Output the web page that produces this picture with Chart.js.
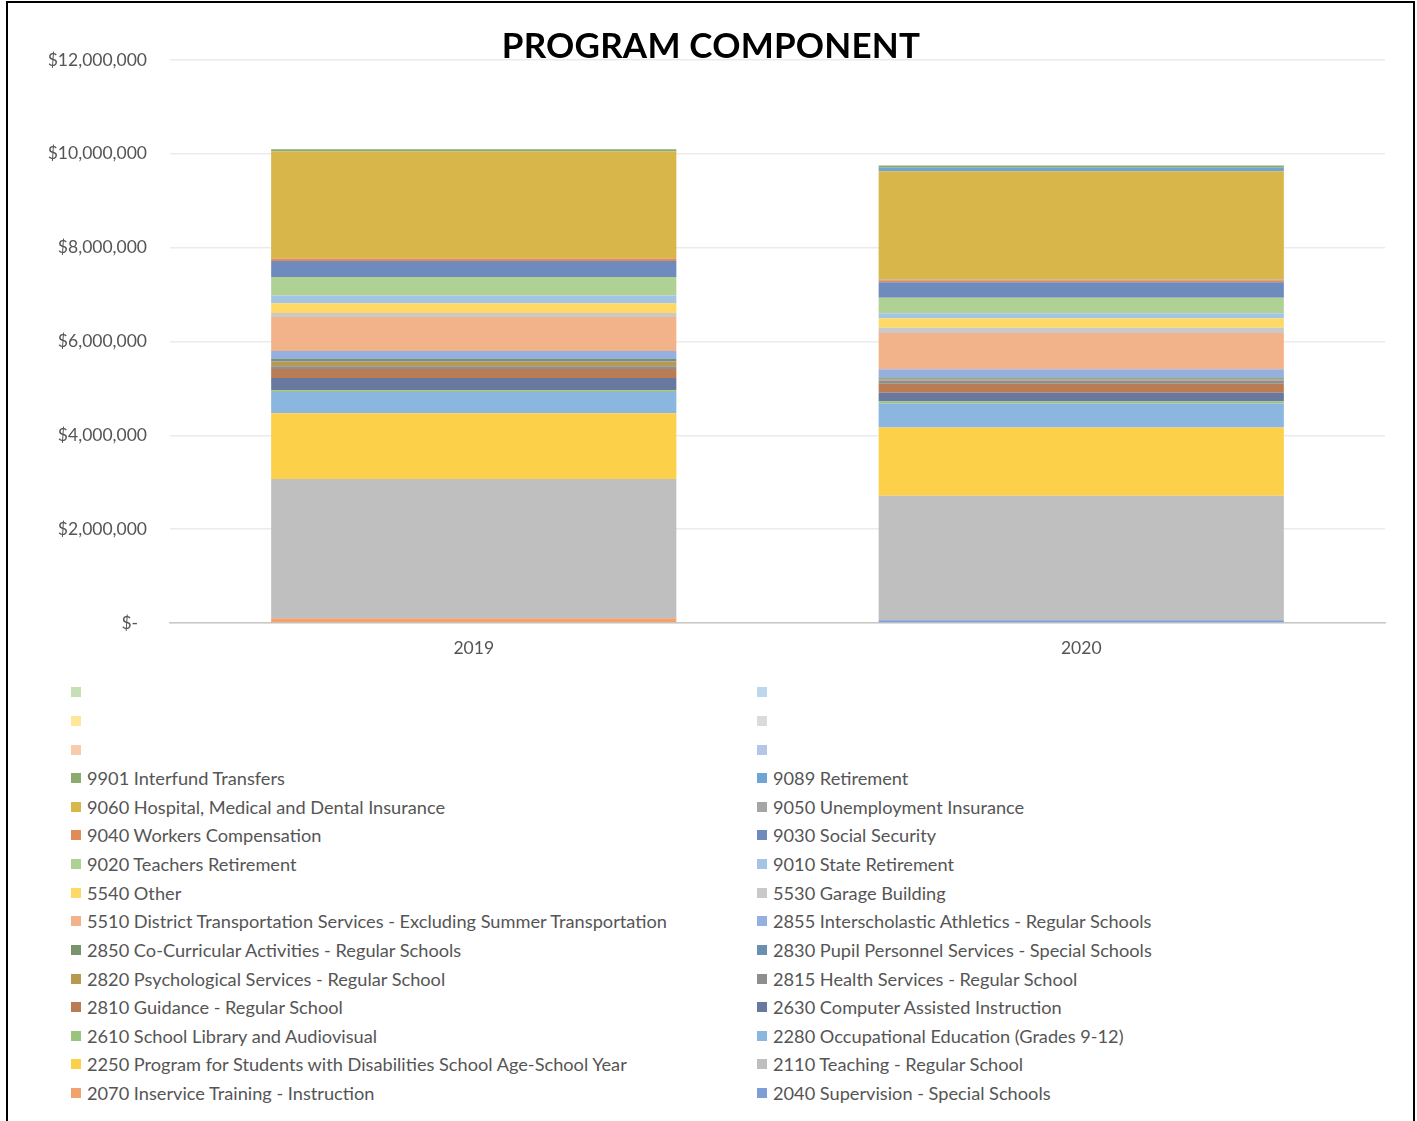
<!DOCTYPE html>
<html>
<head>
<meta charset="utf-8">
<title>Program Component</title>
<script src="https://cdn.jsdelivr.net/npm/chart.js@4.4.1/dist/chart.umd.min.js"></script>
<style>
  body { margin: 0; background: #fff; font-family: Lato, 'Open Sans', sans-serif; }
  #frame { position: absolute; left: 6px; top: 1px; width: 1405px; height: 1140px; border: 2px solid #000; }
  #wrap { position: absolute; left: 0; top: 0; width: 1417px; height: 670px; }
  #title { position: absolute; top: 23px; left: 0; width: 1422px; text-align: center;
           font: bold 35px Lato, sans-serif; color: #000; letter-spacing: 0.2px; }
  #legend { position: absolute; left: 71px; top: 678px; display: grid; grid-template-columns: 686px 620px; }
  .item { height: 28.64px; display: flex; align-items: center; font-size: 18.2px; color: #555; white-space: nowrap; }
  .box { width: 10px; height: 10px; margin-right: 6px; flex: none; }
</style>
</head>
<body>
<div id="frame"></div>
<div id="wrap"><canvas id="chart" width="1417" height="670"></canvas></div>
<div id="title">PROGRAM COMPONENT</div>
<div id="legend"></div>
<script>
// categories
const years = ['2019', '2020'];

// series, bottom of the stack first
const seriesNames = [
    '2040 Supervision - Special Schools',
    '2070 Inservice Training - Instruction',
    '2110 Teaching - Regular School',
    '2250 Program for Students with Disabilities School Age-School Year',
    '2280 Occupational Education (Grades 9-12)',
    '2610 School Library and Audiovisual',
    '2630 Computer Assisted Instruction',
    '2810 Guidance - Regular School',
    '2815 Health Services - Regular School',
    '2820 Psychological Services - Regular School',
    '2830 Pupil Personnel Services - Special Schools',
    '2850 Co-Curricular Activities - Regular Schools',
    '2855 Interscholastic Athletics - Regular Schools',
    '5510 District Transportation Services - Excluding Summer Transportation',
    '5530 Garage Building',
    '5540 Other',
    '9010 State Retirement',
    '9020 Teachers Retirement',
    '9030 Social Security',
    '9040 Workers Compensation',
    '9050 Unemployment Insurance',
    '9060 Hospital, Medical and Dental Insurance',
    '9089 Retirement',
    '9901 Interfund Transfers',
    '', '', '', '', '', ''
];

const values2019 = [
    0, 100000, 2970000, 1400000, 454000, 36000, 262000, 192000, 58000, 107000,
    25000, 24000, 171000, 725000, 85000, 207000, 164000, 396000, 341000, 51000,
    0, 2280000, 0, 49000,
    0, 0, 0, 0, 0, 0
];

const values2020 = [
    58000, 0, 2655000, 1456000, 512000, 43000, 185000, 192000, 70000, 22000,
    22000, 20000, 171000, 774000, 115000, 198000, 107000, 335000, 326000, 42000,
    20000, 2308000, 72000, 49000,
    0, 0, 0, 0, 0, 0
];

const seriesColors = [
    '#7F9ED6', '#F1A36F', '#BFBFBF', '#FDD04A', '#8AB6E0', '#9AC47E', '#67799F', '#B97C54',
    '#8E8E8E', '#B79A4F', '#6A8FB0', '#79936B', '#95B0DF', '#F3B38A', '#C9C9C9', '#FFD966',
    '#A4C4E6', '#AFD294', '#6F8BBD', '#DF8C5A', '#A5A5A5', '#D8B64A', '#6FA5D5', '#8CAB71',
    '#B4C7E7', '#F8CBAD', '#DBDBDB', '#FFE699', '#BDD7EE', '#C5E0B4'
];

const yMax = 12000000;
const yStep = 2000000;

const datasets = seriesNames.map((name, i) => ({
    label: name,
    data: [values2019[i], values2020[i]],
    backgroundColor: seriesColors[i],
    borderWidth: 0,
    stack: 'total',
    categoryPercentage: 1,
    barPercentage: 0.667
}));

const chart = new Chart(document.getElementById('chart'), {
    type: 'bar',
    data: { labels: years, datasets: datasets },
    options: {
        responsive: false,
        animation: false,
        layout: { padding: { left: 0, right: 32, top: 60, bottom: 0 } },
        plugins: {
            legend: { display: false },
            title: { display: false },
            tooltip: { enabled: false }
        },
        scales: {
            x: {
                stacked: true,
                grid: { display: false, drawTicks: false },
                border: { display: true, color: '#C8C8C8', width: 1.5 },
                ticks: { color: '#555', font: { family: 'Lato', size: 17.5 }, padding: 15 },
                afterFit: s => { s.height = 47; }
            },
            y: {
                stacked: true,
                min: 0,
                max: yMax,
                z: 1,
                grid: { color: 'rgba(0,0,0,0.08)', lineWidth: 1.5, drawTicks: false },
                border: { display: false },
                ticks: {
                    stepSize: yStep,
                    color: '#555',
                    font: { family: 'Lato', size: 17.5 },
                    padding: 23,
                    callback: v => v === 0 ? '$-  ' : '$' + v.toLocaleString('en-US')
                },
                afterFit: s => { s.width = 170; }
            }
        }
    }
});

// legend: two columns, top series first (same order Excel uses)
const legend = document.getElementById('legend');
chart.data.datasets.slice().reverse().forEach(ds => {
    const item = document.createElement('div');
    item.className = 'item';
    const box = document.createElement('span');
    box.className = 'box';
    box.style.background = ds.backgroundColor;
    const text = document.createElement('span');
    text.textContent = ds.label;
    item.appendChild(box);
    item.appendChild(text);
    legend.appendChild(item);
});
</script>
</body>
</html>
